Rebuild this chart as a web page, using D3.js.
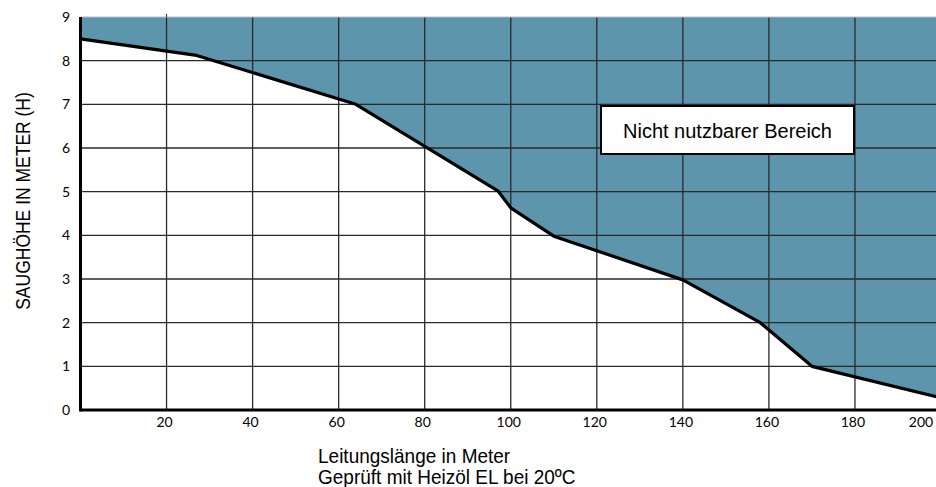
<!DOCTYPE html>
<html>
<head>
<meta charset="utf-8">
<script src="https://cdn.jsdelivr.net/npm/d3@7"></script>
<style>
  body { margin: 0; background: #fff; }
  svg { display: block; }
</style>
</head>
<body>
<svg id="chart" width="936" height="487"></svg>
<script>
// Leitungslänge (m) vs. maximale Saughöhe (m)
const lengths = [0, 27, 64, 97, 100, 110, 140, 158, 170, 200];
const heights = [8.5, 8.12, 7.0, 5.02, 4.63, 3.98, 2.98, 2.0, 1.0, 0.28];
const xTicks = [20, 40, 60, 80, 100, 120, 140, 160, 180, 200];
const yTicks = [0, 1, 2, 3, 4, 5, 6, 7, 8, 9];

const svg = d3.select('svg#chart');
const x = d3.scaleLinear().domain([0, 200]).range([80.5, 941]);
const y = d3.scaleLinear().domain([0, 9]).range([410, 17]);

const points = lengths.map((l, i) => [l, heights[i]]);

// unusable region above the curve
const area = d3.area()
  .x(d => x(d[0]))
  .y0(y(9))
  .y1(d => y(d[1]));

svg.append('path')
  .datum(points)
  .attr('fill', '#5c95ac')
  .attr('d', area);

// grid
const grid = svg.append('g');
grid.selectAll('line.v')
  .data(xTicks.filter(d => d < 200))
  .enter()
  .append('line')
  .attr('x1', d => x(d)).attr('x2', d => x(d))
  .attr('y1', y(9)).attr('y2', y(0))
  .attr('stroke', '#2a2a2a')
  .attr('stroke-width', 1.3);

grid.selectAll('line.h')
  .data(yTicks.filter(d => d > 0 && d < 9))
  .enter()
  .append('line')
  .attr('x1', x(0)).attr('x2', 936)
  .attr('y1', d => y(d)).attr('y2', d => y(d))
  .attr('stroke', '#2a2a2a')
  .attr('stroke-width', 1.3);

// top border + small tick
svg.append('line')
  .attr('x1', x(0)).attr('x2', 936)
  .attr('y1', y(9)).attr('y2', y(9))
  .attr('stroke', '#bbb').attr('stroke-width', 1);
svg.append('line')
  .attr('x1', x(20)).attr('x2', x(20))
  .attr('y1', y(9) - 3).attr('y2', y(9))
  .attr('stroke', '#222').attr('stroke-width', 1);

// curve
svg.append('path')
  .datum(points)
  .attr('fill', 'none')
  .attr('stroke', '#000')
  .attr('stroke-width', 3.2)
  .attr('stroke-linejoin', 'round')
  .attr('d', d3.line().x(d => x(d[0])).y(d => y(d[1])));

// axes lines
svg.append('line')
  .attr('x1', x(0)).attr('x2', 936)
  .attr('y1', y(0)).attr('y2', y(0))
  .attr('stroke', '#000').attr('stroke-width', 3);
svg.append('line')
  .attr('x1', x(0)).attr('x2', x(0))
  .attr('y1', y(9)).attr('y2', y(0) + 1.5)
  .attr('stroke', '#000').attr('stroke-width', 3);

// tick labels
svg.append('g')
  .selectAll('text')
  .data(xTicks)
  .enter()
  .append('text')
  .text(d => d)
  .attr('x', d => d === 200 ? 921 : x(d) - 2)
  .attr('y', 427)
  .attr('text-anchor', 'middle')
  .attr('style', 'font: 14px Lato, "DejaVu Sans", sans-serif;');

svg.append('g')
  .selectAll('text')
  .data(yTicks)
  .enter()
  .append('text')
  .text(d => d)
  .attr('x', 66)
  .attr('y', d => y(d) + 5)
  .attr('text-anchor', 'middle')
  .attr('style', 'font: 14px Lato, "DejaVu Sans", sans-serif;');

// label box
svg.append('rect')
  .attr('x', 601).attr('y', 106)
  .attr('width', 253).attr('height', 48)
  .attr('fill', '#fff')
  .attr('stroke', '#000')
  .attr('stroke-width', 2);
svg.append('text')
  .text('Nicht nutzbarer Bereich')
  .attr('x', 727.5).attr('y', 138)
  .attr('text-anchor', 'middle')
  .attr('style', 'font: 20px "Liberation Sans", Arial, sans-serif;');

// axis titles (the original font is a bit taller/narrower than Arial)
svg.append('text')
  .text('SAUGHÖHE IN METER (H)')
  .attr('transform', 'translate(30,201) rotate(-90) scale(1,1.12)')
  .attr('text-anchor', 'middle')
  .attr('style', 'font: 17.5px "Liberation Sans", Arial, sans-serif;');

svg.append('text')
  .text('Leitungslänge in Meter')
  .attr('transform', 'translate(318,463) scale(1,1.1)')
  .attr('style', 'font: 19px "Liberation Sans", Arial, sans-serif;');
svg.append('text')
  .text('Geprüft mit Heizöl EL bei 20ºC')
  .attr('transform', 'translate(318,484) scale(1,1.1)')
  .attr('style', 'font: 19px "Liberation Sans", Arial, sans-serif;');
</script>
</body>
</html>
